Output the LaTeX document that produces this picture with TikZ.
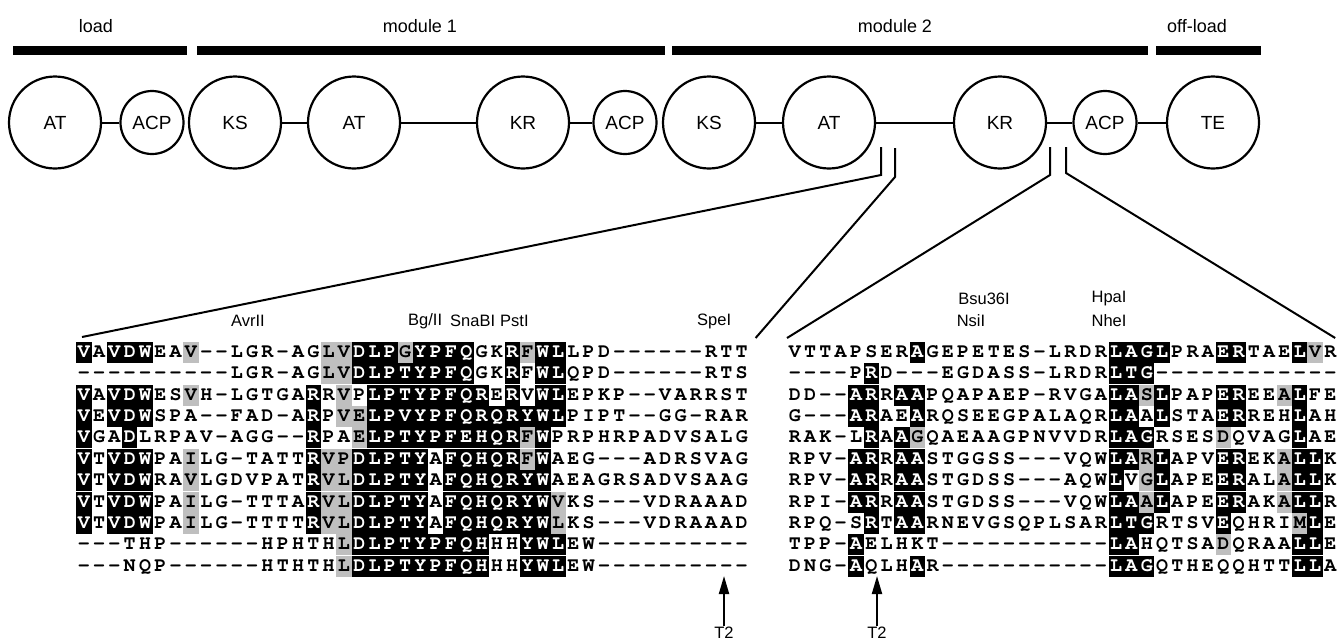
\documentclass[tikz,border=0pt]{standalone}
\usepackage{fontspec}
\setmainfont{Liberation Sans}
\newfontfamily\seqfont{TeX Gyre Cursor}
\usepackage{tikz}
\usetikzlibrary{positioning, arrows.meta}
\usepackage{xcolor}
\definecolor{shade}{gray}{0.75}

% one alignment column: plain, black (lower case) or grey (+X)
\newlength\cw
\setlength\cw{15.3pt}
\newcommand\cellstrut{\rule[-5.5pt]{0pt}{21pt}}
\newcommand\pcell[1]{\makebox[\cw]{\cellstrut#1}}
\newcommand\bcell[1]{{\fboxsep=0pt\colorbox{black}{\makebox[\cw]{\cellstrut\textcolor{white}{#1}}}}}
\newcommand\gcell[1]{{\fboxsep=0pt\colorbox{shade}{\makebox[\cw]{\cellstrut#1}}}}
\newcommand\alnend{}
\newcommand\aln[1]{\alnloop#1\alnend}
\def\alnloop#1{%
  \ifx#1\alnend\let\alnnext\relax
  \else\ifx#1+\let\alnnext\alngrey
  \else\alncell{#1}\let\alnnext\alnloop\fi\fi\alnnext}
\def\alngrey#1{\gcell{#1}\alnloop}
\def\alncell#1{\ifnum`#1>`Z\relax\uppercase{\bcell{#1}}\else\pcell{#1}\fi}

\begin{document}
\begin{tikzpicture}[x=1pt, y=-1pt, >=Stealth,
  dombox/.style={circle, draw, line width=2.2pt, minimum size=92pt,
    inner sep=0pt, font=\fontsize{19}{21}\selectfont},
  acpbox/.style={dombox, minimum size=63pt},
  modbar/.style={fill=black, minimum height=9.5pt, inner sep=0pt},
  modlabel/.style={font=\fontsize{18}{20}\selectfont},
  site/.style={font=\fontsize{16.5}{19}\selectfont, inner sep=1pt},
  seqrow/.style={inner sep=0pt, anchor=north west, font=\seqfont\bfseries\fontsize{20}{21}\selectfont},
  link/.style={line width=2pt}]
  \useasboundingbox (0,0) rectangle (1340,641);

  % modules
  \node[modlabel] (tload) at (96,26) {load};
  \node[modlabel] (tmod1) at (420,26) {module 1};
  \node[modlabel] (tmod2) at (895,26) {module 2};
  \node[modlabel] (toff) at (1197,26) {off-load};
  \node[modbar, minimum width=174pt] (bload) at (100,50.5) {};
  \node[modbar, minimum width=468pt] (bmod1) at (431,50.5) {};
  \node[modbar, minimum width=476pt] (bmod2) at (910,50.5) {};
  \node[modbar, minimum width=105pt] (boff) at (1208.5,50.5) {};

  % domains
  \node[dombox] (at0) at (55,122.5) {AT};
  \node[acpbox] (acp0) at (152,122.5) {ACP};
  \node[dombox] (ks1) at (235,122.5) {KS};
  \node[dombox] (at1) at (354,122.5) {AT};
  \node[dombox] (kr1) at (523,122.5) {KR};
  \node[acpbox] (acp1) at (625,122.5) {ACP};
  \node[dombox] (ks2) at (709,122.5) {KS};
  \node[dombox] (at2) at (829,122.5) {AT};
  \node[dombox] (kr2) at (1000,122.5) {KR};
  \node[acpbox] (acp2) at (1105,122.5) {ACP};
  \node[dombox] (te) at (1213,122.5) {TE};
  \draw[link] (at0) -- (acp0);
  \draw[link] (ks1) -- (at1);
  \draw[link] (at1) -- (kr1);
  \draw[link] (kr1) -- (acp1);
  \draw[link] (ks2) -- (at2);
  \draw[link] (at2) -- (kr2);
  \draw[link] (kr2) -- (acp2);
  \draw[link] (acp2) -- (te);

  % AT-KR linker alignment
  \node[seqrow] (L1) at (76,341.5) {\aln{vAvdwEA+V--LGR-AG+L+Vdlp+GypfqGKr+FwlLPD------RTT}};
  \node[seqrow, below=0pt of L1] (L2) {\aln{----------LGR-AG+L+VdlptypfqGKrFwlQPD------RTS}};
  \node[seqrow, below=0pt of L2] (L3) {\aln{vAvdwES+VH-LGTGArR+VPlptypfqrErVwlEPKP--VARRST}};
  \node[seqrow, below=0pt of L3] (L4) {\aln{vEvdwSPA--FAD-ArP+V+ElpvypfqrqrywlPIPT--GG-RAR}};
  \node[seqrow, below=0pt of L4] (L5) {\aln{vGAdLRPAV-AGG--rPA+Elptypfehqr+FwPRPHRPADVSALG}};
  \node[seqrow, below=0pt of L5] (L6) {\aln{vTvdwPA+ILG-TATTr+V+PdlptyAfqhqr+FwAEG---ADRSVAG}};
  \node[seqrow, below=0pt of L6] (L7) {\aln{vTvdwRA+VLGDVPATr+V+LdlptyAfqhqrywAEAGRSADVSAAG}};
  \node[seqrow, below=0pt of L7] (L8) {\aln{vTvdwPA+ILG-TTTAr+V+LdlptyAfqhqryw+VKS---VDRAAAD}};
  \node[seqrow, below=0pt of L8] (L9) {\aln{vTvdwPA+ILG-TTTTr+V+LdlptyAfqhqryw+LKS---VDRAAAD}};
  \node[seqrow, below=0pt of L9] (L10) {\aln{---THP------HPHTH+LdlptypfqhHHywlEW----------}};
  \node[seqrow, below=0pt of L10] (L11) {\aln{---NQP------HTHTH+LdlptypfqhHHywlEW----------}};

  % KR-ACP linker alignment
  \node[seqrow] (R1) at (787,341.5) {\aln{VTTAPSERaGEPETES-LRDRlaglPRAerTAEl+VR}};
  \node[seqrow, below=0pt of R1] (R2) {\aln{----PrD---EGDASS-LRDRltg------------}};
  \node[seqrow, below=0pt of R2] (R3) {\aln{DD--arRaaPQAPAEP-RVGAla+SlPAPerEE+AlFE}};
  \node[seqrow, below=0pt of R3] (R4) {\aln{G---arAEaRQSEEGPALAQRlaAlSTAerREHlAH}};
  \node[seqrow, below=0pt of R4] (R5) {\aln{RAK-LrAa+GQAEAAGPNVVDRlagRSES+DQVAGlAE}};
  \node[seqrow, below=0pt of R5] (R6) {\aln{RPV-arRaaSTGGSS---VQWla+RlAPVerEK+AllK}};
  \node[seqrow, below=0pt of R6] (R7) {\aln{RPV-arRaaSTGDSS---AQWlV+GlAPEerAL+AllK}};
  \node[seqrow, below=0pt of R7] (R8) {\aln{RPI-arRaaSTGDSS---VQWla+AlAPEerAK+AllR}};
  \node[seqrow, below=0pt of R8] (R9) {\aln{RPQ-SrTaaRNEVGSQPLSARltgRTSVeQHRI+MlE}};
  \node[seqrow, below=0pt of R9] (R10) {\aln{TPP-aELHKT-----------laHQTSA+DQRAAllE}};
  \node[seqrow, below=0pt of R10] (R11) {\aln{DNG-aQLHaR-----------lagQTHEQQHTTllA}};

  % zoom lines
  \coordinate (k1) at (881,147);
  \coordinate (k2) at (895,148);
  \coordinate (k3) at (1050,147);
  \coordinate (k4) at (1066,147);
  \draw[link] (k1) -- ++(0,28) -- ([shift={(6,-4.5)}]L1.north west);
  \draw[link] (k2) -- ++(0,29) -- ([shift={(6,-3.5)}]L1.north east);
  \draw[link] (k3) -- ++(0,28) -- ([shift={(0,-3.5)}]R1.north west);
  \draw[link] (k4) -- ++(0,26) -- ([shift={(-3,-3.5)}]R1.north east);

  % restriction sites
  \node[site] (avr) at (248,321) {AvrII};
  \node[site, anchor=west] (bgl) at (407,321) {Bg/II};
  \node[site, anchor=west] (sna) at (449,321) {SnaBI};
  \node[site, anchor=west] (pst) at (499,321) {PstI};
  \node[site, anchor=west] (spe) at (696,321) {SpeI};
  \node[site] (bsu) at (984,299) {Bsu36I};
  \node[site] (nsi) at (971,321) {NsiI};
  \node[site] (hpa) at (1109,299) {HpaI};
  \node[site] (nhe) at (1109,321) {NheI};

  % T2 sites
  \node[site] (t2a) at (724,633) {T2};
  \node[site] (t2b) at (877,633) {T2};
  \coordinate (pa) at (724,576);
  \coordinate (pb) at (877,576);
  \draw[-{Triangle[width=10pt,length=18pt]}, line width=2pt] (t2a) -- (pa);
  \draw[-{Triangle[width=10pt,length=18pt]}, line width=2pt] (t2b) -- (pb);
\end{tikzpicture}
\end{document}
